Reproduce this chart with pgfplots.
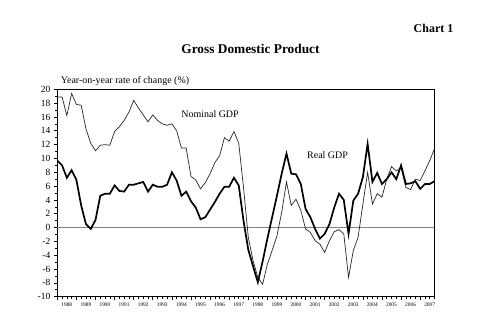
\documentclass[border=0pt]{standalone}
\usepackage{fontspec}
\setmainfont{Liberation Serif}
\usepackage{pgfplots}
\pgfplotsset{compat=1.18}
\begin{document}
\begin{tikzpicture}
\path (0,0) rectangle (490bp,-321bp);
\node[font=\fontsize{12}{14}\selectfont\bfseries] at (433.5bp,-28.7bp) {Chart 1};
\node[font=\fontsize{13.4}{15}\selectfont\bfseries] at (250.5bp,-49.3bp) {Gross Domestic Product};
\node[font=\fontsize{10}{12}\selectfont, anchor=west, inner sep=0pt] at (60.7bp,-80.7bp) {Year-on-year rate of change (\%)};
\begin{axis}[
  at={(57.3bp,-296.7bp)}, anchor=south west,
  scale only axis, width=377.2bp, height=207.4bp,
  xmin=0, xmax=79, ymin=-10, ymax=20,
  axis line style={line width=1.1bp},
  /pgf/number format/assume math mode=true,
  ytick={-10,-8,...,20},
  minor y tick num=1,
  xtick={0,4,...,76},
  xticklabels={1988,1989,1990,1991,1992,1993,1994,1995,1996,1997,1998,1999,2000,2001,2002,2003,2004,2005,2006,2007},
  minor xtick={0,1,...,79},
  tick align=outside,
  major tick length=3bp, minor tick length=2bp,
  every tick/.style={black, line width=0.6bp},
  yticklabel style={font=\fontsize{9.5}{11}\selectfont, xshift=-0.5bp},
  xticklabel style={font=\fontsize{5.4}{6}\selectfont, xshift=9.5bp, yshift=0bp},
  xtick pos=bottom, ytick pos=left,
  clip=false,
]
\addplot[gray, line width=0.9bp, forget plot] coordinates {(0,0) (79,0)};
\addplot[black!85, line width=0.7bp] coordinates {
(0,18.9)(1,18.9)(2,16.2)(3,19.4)(4,17.8)(5,17.7)(6,14.3)(7,12.2)(8,11.1)(9,11.9)
(10,12.0)(11,11.9)(12,13.9)(13,14.6)(14,15.5)(15,16.7)(16,18.4)(17,17.3)(18,16.3)(19,15.3)
(20,16.3)(21,15.5)(22,15.0)(23,14.8)(24,15.0)(25,14.0)(26,11.5)(27,11.5)(28,7.4)(29,6.9)
(30,5.6)(31,6.5)(32,7.8)(33,9.4)(34,10.4)(35,13.0)(36,12.5)(37,13.9)(38,12.2)(39,5.8)
(40,-1.4)(41,-4.8)(42,-7.2)(43,-8.2)(44,-5.3)(45,-3.3)(46,-1.2)(47,2.2)(48,6.6)(49,3.2)
(50,4.1)(51,2.5)(52,-0.2)(53,-0.7)(54,-1.9)(55,-2.4)(56,-3.6)(57,-1.9)(58,-0.6)(59,-0.3)
(60,-0.9)(61,-7.2)(62,-3.3)(63,-1.4)(64,3.4)(65,8.0)(66,3.4)(67,4.9)(68,4.4)(69,7.0)
(70,8.8)(71,8.2)(72,8.7)(73,5.8)(74,5.5)(75,7.0)(76,6.8)(77,8.2)(78,9.7)(79,11.4)
};
\addplot[black, line width=1.7bp] coordinates {
(0,9.7)(1,9.0)(2,7.2)(3,8.3)(4,6.9)(5,3.2)(6,0.5)(7,-0.2)(8,1.1)(9,4.6)
(10,4.9)(11,4.9)(12,6.1)(13,5.3)(14,5.2)(15,6.2)(16,6.2)(17,6.4)(18,6.6)(19,5.2)
(20,6.2)(21,5.9)(22,5.9)(23,6.2)(24,8.0)(25,6.8)(26,4.6)(27,5.2)(28,3.8)(29,2.9)
(30,1.2)(31,1.5)(32,2.6)(33,3.7)(34,4.9)(35,5.9)(36,5.9)(37,7.2)(38,6.1)(39,1.0)
(40,-3.2)(41,-5.6)(42,-7.9)(43,-4.9)(44,-1.6)(45,1.5)(46,4.6)(47,7.8)(48,10.7)(49,7.8)
(50,7.7)(51,6.3)(52,2.7)(53,1.5)(54,-0.2)(55,-1.6)(56,-0.9)(57,0.5)(58,2.9)(59,4.9)
(60,4.0)(61,-0.9)(62,3.9)(63,4.9)(64,7.3)(65,12.1)(66,6.6)(67,7.9)(68,6.3)(69,7.0)
(70,8.0)(71,7.0)(72,9.0)(73,6.3)(74,6.4)(75,6.7)(76,5.6)(77,6.3)(78,6.3)(79,6.7)
};
\node[font=\fontsize{10}{12}\selectfont] at (axis cs:32,16.4) {Nominal GDP};
\node[font=\fontsize{10}{12}\selectfont] at (axis cs:56.6,10.5) {Real GDP};
\end{axis}
\end{tikzpicture}
\end{document}
